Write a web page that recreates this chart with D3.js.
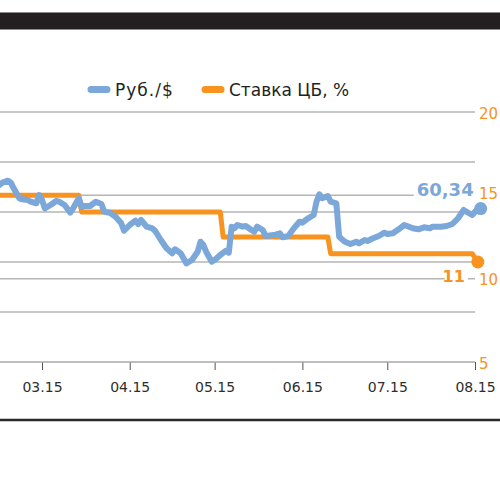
<!DOCTYPE html>
<html>
<head>
<meta charset="utf-8">
<script src="https://cdn.jsdelivr.net/npm/d3@7/dist/d3.min.js"></script>
<style>
  body { margin: 0; background: #fff; }
  svg { display: block; font-family: "DejaVu Sans", sans-serif; }
</style>
</head>
<body>
<svg id="chart" width="500" height="497"></svg>
<script>
// ruble per dollar
const rubDates = ["2015-02-14","2015-02-15","2015-02-17","2015-02-18","2015-02-19","2015-02-21","2015-02-22","2015-02-24","2015-02-25","2015-02-27",
                  "2015-02-28","2015-03-01","2015-03-02","2015-03-04","2015-03-06","2015-03-07","2015-03-09","2015-03-11","2015-03-12","2015-03-14",
                  "2015-03-15","2015-03-16","2015-03-18","2015-03-20","2015-03-22","2015-03-23","2015-03-25","2015-03-27","2015-03-29","2015-03-30",
                  "2015-04-01","2015-04-03","2015-04-04","2015-04-05","2015-04-07","2015-04-09","2015-04-10","2015-04-12","2015-04-14","2015-04-16",
                  "2015-04-17","2015-04-19","2015-04-21","2015-04-23","2015-04-25","2015-04-26","2015-04-27","2015-04-28","2015-04-30","2015-05-01",
                  "2015-05-03","2015-05-05","2015-05-06","2015-05-07","2015-05-08","2015-05-09","2015-05-11","2015-05-12","2015-05-14","2015-05-15",
                  "2015-05-16","2015-05-18","2015-05-19","2015-05-22","2015-05-24","2015-05-25","2015-05-27","2015-05-29","2015-05-31","2015-06-01",
                  "2015-06-03","2015-06-05","2015-06-06","2015-06-07","2015-06-08","2015-06-10","2015-06-11","2015-06-13","2015-06-14","2015-06-16",
                  "2015-06-18","2015-06-20","2015-06-21","2015-06-23","2015-06-24","2015-06-26","2015-06-28","2015-06-30","2015-07-01","2015-07-03",
                  "2015-07-05","2015-07-07","2015-07-08","2015-07-10","2015-07-12","2015-07-14","2015-07-16","2015-07-17","2015-07-20","2015-07-22",
                  "2015-07-24","2015-07-26","2015-07-28","2015-07-29","2015-07-31","2015-08-01","2015-08-03"];
const rubValues = [62.70,62.93,63.13,62.93,62.37,61.37,61.27,61.20,61.03,60.87,
                   61.70,61.20,60.37,60.70,61.10,61.03,60.70,59.93,60.37,61.37,
                   60.53,60.60,60.60,61.03,60.80,60.03,59.93,59.53,58.87,58.13,
                   58.70,59.13,58.80,59.20,58.53,58.37,58.10,57.20,56.37,55.87,
                   56.27,55.87,54.87,55.20,56.03,57.03,56.70,56.03,55.03,55.20,
                   55.70,56.13,55.93,58.53,58.37,58.70,58.53,58.60,58.20,58.03,
                   58.53,58.20,57.60,57.70,57.87,57.47,57.60,58.37,59.03,58.93,
                   59.37,59.70,61.03,61.77,61.37,61.60,61.03,60.87,57.53,57.03,
                   56.80,57.03,56.87,57.20,57.10,57.37,57.60,57.93,57.80,57.87,
                   58.27,58.70,58.60,58.37,58.27,58.47,58.37,58.53,58.53,58.60,
                   58.80,59.37,60.20,60.03,59.70,60.03,60.34];

// central bank key rate, %
const rateDates = ["2015-02-10","2015-03-14","2015-03-15","2015-05-03","2015-05-04","2015-06-10","2015-06-11","2015-07-31","2015-08-02"];
const rateValues = [15, 15, 14, 14, 12.5, 12.5, 11.5, 11.5, 11];

const monthTicks = ["2015-03-01","2015-04-01","2015-05-01","2015-06-01","2015-07-01","2015-08-01"];
const rubTicks = [45, 50, 55, 60, 65, 70];
const rateTicks = [5, 10, 15, 20];

const legendItems = ["Руб./$", "Ставка ЦБ, %"];

const blue = "#7ba7d9";
const orange = "#f7931e";
const parse = d3.timeParse("%Y-%m-%d");

const rubData = rubDates.map((d, i) => ({ date: parse(d), value: rubValues[i] }));
const rateData = rateDates.map((d, i) => ({ date: parse(d), value: rateValues[i] }));

const svg = d3.select("#chart");

const x = d3.scaleTime()
    .domain([parse("2015-03-01"), parse("2015-08-01")])
    .range([42, 475]);

const yRub = d3.scaleLinear()
    .domain([45, 70])
    .range([362, 112]);

const yRate = d3.scaleLinear()
    .domain([5, 20])
    .range([362, 112]);

// top dark band
svg.append("rect")
   .attr("x", -2)
   .attr("y", 12.5)
   .attr("width", 504)
   .attr("height", 17)
   .attr("fill", "#231f20")
   .attr("stroke", "#8c8c8c")
   .attr("stroke-width", 1);

// legend
const legend = svg.append("g");
[[88, blue], [202, orange]].forEach(([lx, col], i) => {
    legend.append("line")
          .attr("x1", lx + 3)
          .attr("x2", lx + 19)
          .attr("y1", 89.5)
          .attr("y2", 89.5)
          .attr("stroke", col)
          .attr("stroke-width", 7)
          .attr("stroke-linecap", "round");
    legend.append("text")
          .attr("x", lx + 27)
          .attr("y", 95.5)
          .attr("fill", "#231f20")
          .style("font-size", "17px")
          .style("letter-spacing", i === 0 ? "1px" : "0px")
          .text(legendItems[i]);
});

// gridlines (left and right axis)
const gridYs = [...new Set([...rubTicks.map(yRub), ...rateTicks.map(yRate)].map(v => Math.round(v * 10) / 10))]
    .filter(v => v < 361);

svg.selectAll(".grid")
   .data(gridYs)
   .enter()
   .append("line")
   .attr("class", "grid")
   .attr("x1", 0)
   .attr("x2", 475)
   .attr("y1", d => d)
   .attr("y2", d => d)
   .attr("stroke", "#b5b5b5")
   .attr("stroke-width", 1.4);

// x axis
const xAxis = svg.append("g")
    .attr("transform", "translate(0,362)")
    .call(d3.axisBottom(x)
        .tickValues(monthTicks.map(parse))
        .tickSize(8)
        .tickFormat(d3.timeFormat("%m.%y")));

xAxis.select(".domain").remove();
svg.append("line")
   .attr("x1", 0)
   .attr("x2", 475)
   .attr("y1", 362)
   .attr("y2", 362)
   .attr("stroke", "#a8a8a8")
   .attr("stroke-width", 1.6);

xAxis.selectAll(".tick line")
     .attr("stroke", "#555")
     .attr("stroke-width", 1);
xAxis.selectAll(".tick text")
     .attr("y", 20)
     .attr("fill", "#2e2e2e")
     .style("font-size", "14px")
     .style("font-family", "'DejaVu Sans', sans-serif");

// right axis labels
svg.selectAll(".rate-label")
   .data(rateTicks)
   .enter()
   .append("text")
   .attr("class", "rate-label")
   .attr("x", 479)
   .attr("y", d => yRate(d) + (d === 15 ? -1 : 1.5))
   .attr("dominant-baseline", "central")
   .attr("fill", orange)
   .style("font-size", "15px")
   .text(d => d);

// lines
svg.append("path")
   .datum(rateData)
   .attr("fill", "none")
   .attr("stroke", orange)
   .attr("stroke-width", 5)
   .attr("stroke-linejoin", "round")
   .attr("d", d3.line().x(d => x(d.date)).y(d => yRate(d.value)));

svg.append("path")
   .datum(rubData)
   .attr("fill", "none")
   .attr("stroke", blue)
   .attr("stroke-width", 6)
   .attr("stroke-linejoin", "round")
   .attr("stroke-linecap", "round")
   .attr("d", d3.line().x(d => x(d.date)).y(d => yRub(d.value)));

// end points and value labels
const lastRub = rubData[rubData.length - 1];
const lastRate = rateData[rateData.length - 1];
const fmt = d3.format(".2f");

svg.append("circle")
   .attr("cx", x(lastRub.date))
   .attr("cy", yRub(lastRub.value))
   .attr("r", 6.5)
   .attr("fill", blue);

svg.append("circle")
   .attr("cx", x(lastRate.date))
   .attr("cy", yRate(lastRate.value))
   .attr("r", 6.5)
   .attr("fill", orange);

const rubLabelX = x(lastRub.date) - 7;
const rubLabelY = yRub(lastRub.value) - 19;
svg.append("rect")
   .attr("x", rubLabelX - 60)
   .attr("y", rubLabelY - 9)
   .attr("width", 62)
   .attr("height", 18)
   .attr("fill", "#fff");
svg.append("text")
   .attr("x", rubLabelX)
   .attr("y", rubLabelY)
   .attr("text-anchor", "end")
   .attr("dominant-baseline", "central")
   .attr("fill", blue)
   .style("font-size", "18px")
   .style("font-weight", "bold")
   .text(fmt(lastRub.value).replace(".", ","));

const rateLabelX = x(lastRate.date) - 13;
const rateLabelY = yRate(lastRate.value) + 14;
svg.append("rect")
   .attr("x", rateLabelX - 20)
   .attr("y", rateLabelY - 8)
   .attr("width", 23)
   .attr("height", 16)
   .attr("fill", "#fff");
svg.append("text")
   .attr("x", rateLabelX)
   .attr("y", rateLabelY)
   .attr("text-anchor", "end")
   .attr("dominant-baseline", "central")
   .attr("fill", orange)
   .style("font-size", "16px")
   .style("font-weight", "bold")
   .text(lastRate.value);

// bottom rule
svg.append("line")
   .attr("x1", 0)
   .attr("x2", 500)
   .attr("y1", 420)
   .attr("y2", 420)
   .attr("stroke", "#2b2b2b")
   .attr("stroke-width", 2.6);
</script>
</body>
</html>
